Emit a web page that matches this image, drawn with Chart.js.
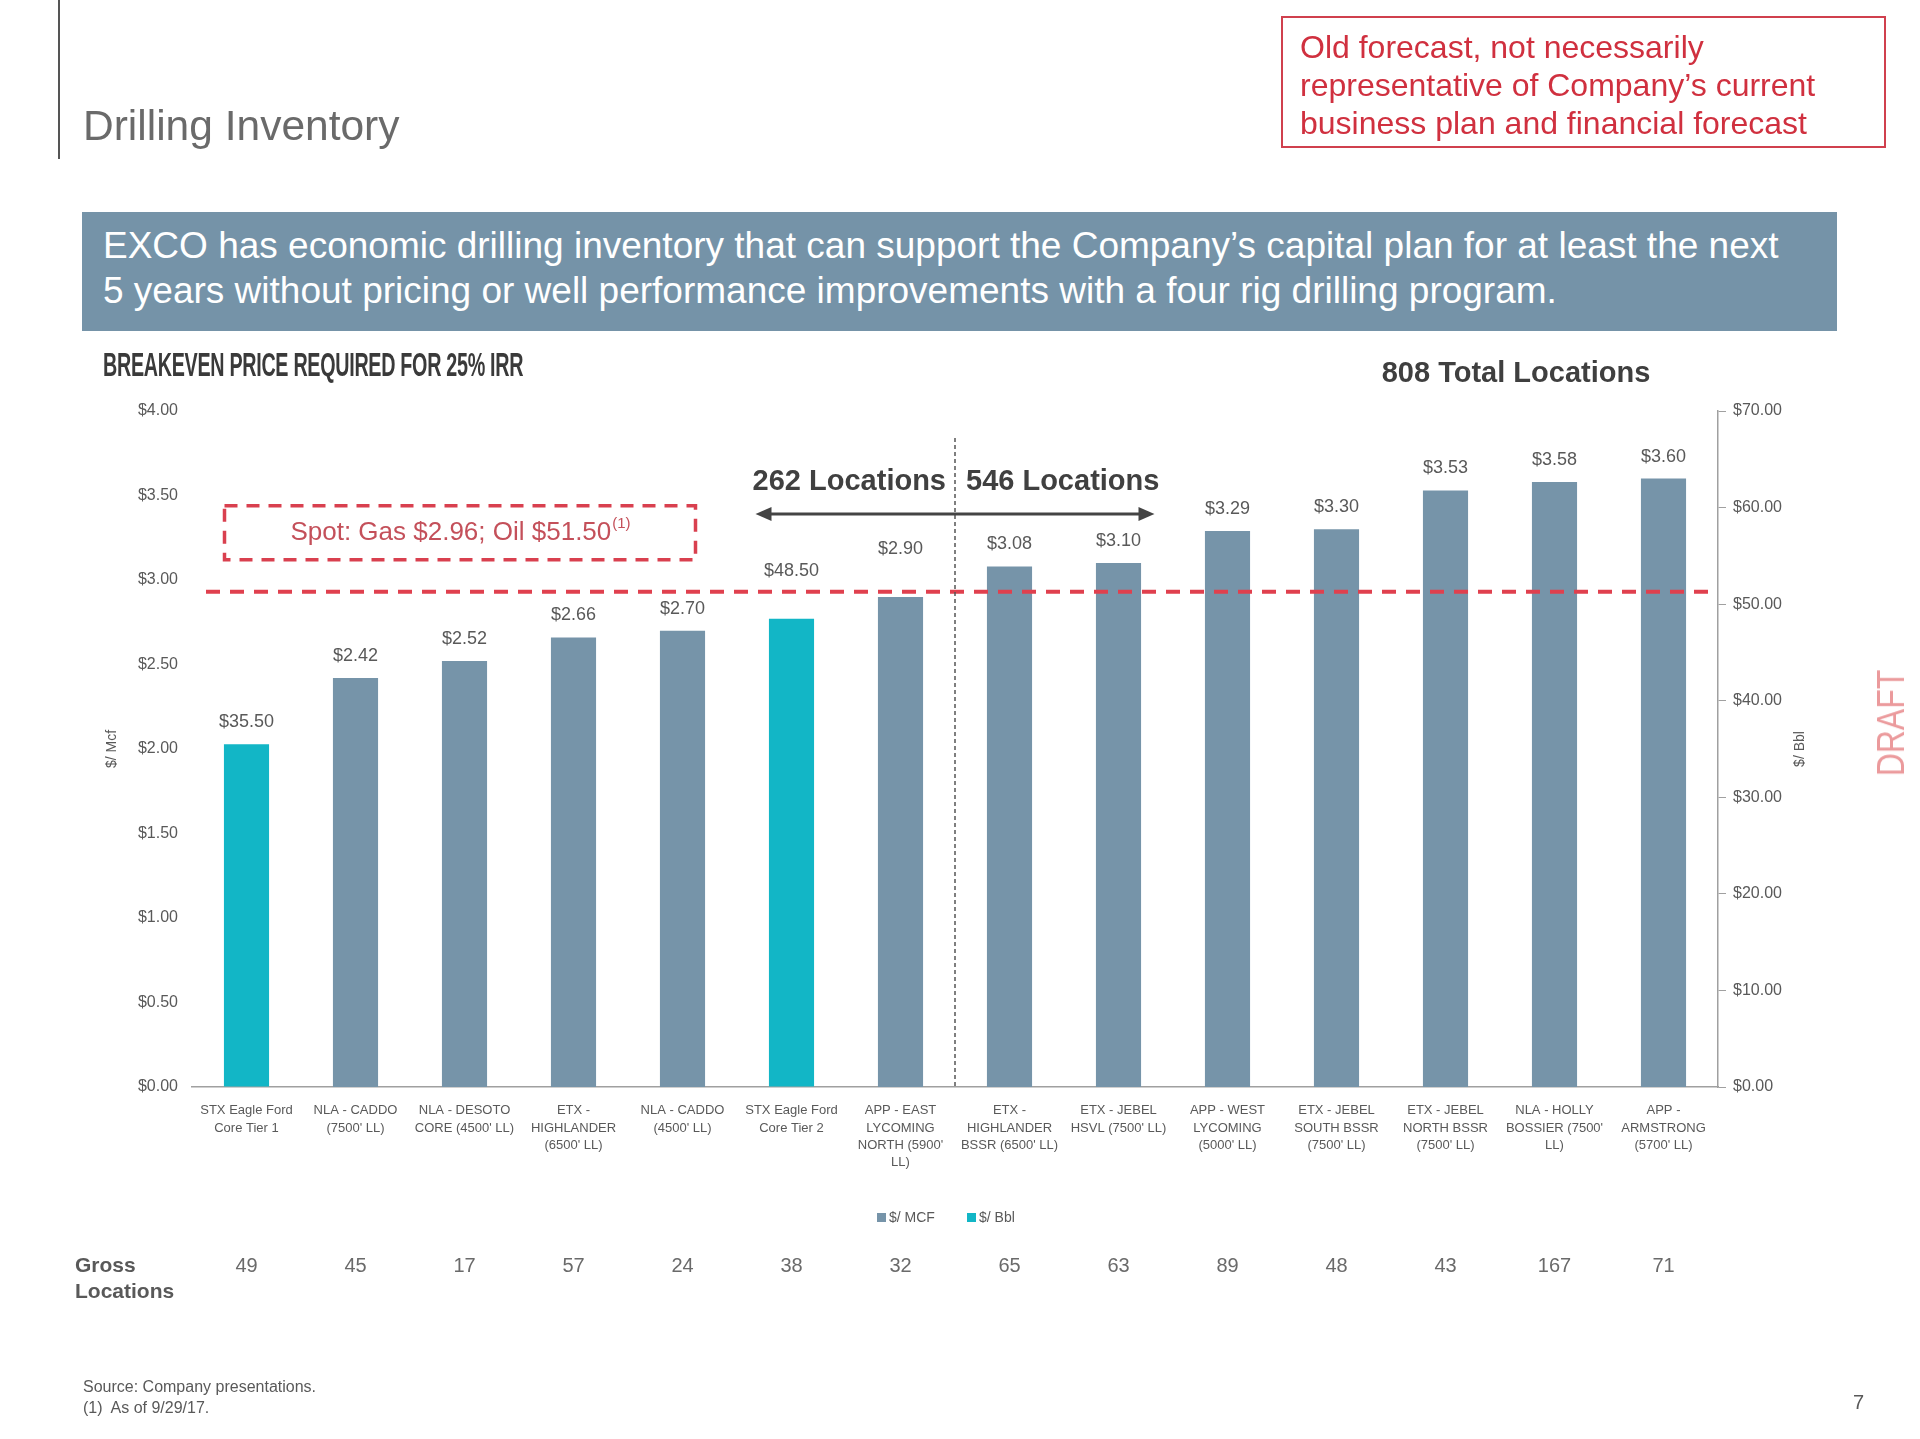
<!DOCTYPE html>
<html>
<head>
<meta charset="utf-8">
<script src="https://cdn.jsdelivr.net/npm/chart.js@4.4.1/dist/chart.umd.min.js"></script>
<style>
  html, body { margin: 0; padding: 0; background: #fff; }
  #page { position: relative; width: 1920px; height: 1439px; overflow: hidden; font-family: "Liberation Sans", Arial, sans-serif; }
  #chart { position: absolute; left: 0; top: 0; }
  .abs { position: absolute; white-space: nowrap; }
  .rule { left: 58px; top: 0; width: 2px; height: 159px; background: #555; }
  .title { left: 83px; top: 101px; font-size: 42.5px; line-height: 50px; color: #6a6a6a; }
  .warn { left: 1281px; top: 16px; width: 584px; height: 118px; border: 2px solid #d0404e; padding: 10px 0 0 17px;
          font-size: 32px; line-height: 38px; color: #d0303f; }
  .banner { left: 82px; top: 212px; width: 1734px; height: 108px; background: #7593a8; padding: 11px 0 0 21px;
            font-size: 37px; line-height: 45px; color: #fff; }
  .sub { left: 103px; top: 345px; font-weight: bold; font-size: 34px;
         line-height: 38px; color: #3a3a3a; transform: scaleX(0.58); transform-origin: left center; letter-spacing: -0.5px; }
  .total { left: 1381px; top: 354px; width: 270px; text-align: center; font-weight: bold; font-size: 29px; line-height: 36px; color: #3f3f3f; }
  .source { left: 83px; top: 1376px; font-size: 16px; line-height: 21px; color: #595959; }
  .draft { left: 1836px; top: 708px; width: 110px; text-align: center;
           font-size: 38px; line-height: 44px; color: #eb9a9c; transform: rotate(-90deg) scaleX(0.84); }
  .pnum { left: 1853px; top: 1389px; font-size: 20px; line-height: 26px; color: #595959; }
</style>
</head>
<body>
<div id="page">
  <canvas id="chart" width="1920" height="1439"></canvas>
  <div class="abs rule"></div>
  <div class="abs title">Drilling Inventory</div>
  <div class="abs warn">Old forecast, not necessarily<br>representative of Company’s current<br>business plan and financial forecast</div>
  <div class="abs banner">EXCO has economic drilling inventory that can support the Company’s capital plan for at least the next<br>5 years without pricing or well performance improvements with a four rig drilling program.</div>
  <div class="abs sub">BREAKEVEN PRICE REQUIRED FOR 25% IRR</div>
  <div class="abs total" id="total"></div>
  <div class="abs source">Source: Company presentations.<br>(1)&nbsp; As of 9/29/17.</div>
  <div class="abs draft">DRAFT</div>
  <div class="abs pnum">7</div>
</div>
<script>
const categories = [
  ["STX Eagle Ford", "Core Tier 1"],
  ["NLA - CADDO", "(7500' LL)"],
  ["NLA - DESOTO", "CORE (4500' LL)"],
  ["ETX -", "HIGHLANDER", "(6500' LL)"],
  ["NLA - CADDO", "(4500' LL)"],
  ["STX Eagle Ford", "Core Tier 2"],
  ["APP - EAST", "LYCOMING", "NORTH (5900'", "LL)"],
  ["ETX -", "HIGHLANDER", "BSSR (6500' LL)"],
  ["ETX - JEBEL", "HSVL (7500' LL)"],
  ["APP - WEST", "LYCOMING", "(5000' LL)"],
  ["ETX - JEBEL", "SOUTH BSSR", "(7500' LL)"],
  ["ETX - JEBEL", "NORTH BSSR", "(7500' LL)"],
  ["NLA - HOLLY", "BOSSIER (7500'", "LL)"],
  ["APP -", "ARMSTRONG", "(5700' LL)"]
];
const mcfValues = [null, 2.42, 2.52, 2.66, 2.70, null, 2.90, 3.08, 3.10, 3.29, 3.30, 3.53, 3.58, 3.60];
const bblValues = [35.50, null, null, null, null, 48.50, null, null, null, null, null, null, null, null];
const grossLocations = [49, 45, 17, 57, 24, 38, 32, 65, 63, 89, 48, 43, 167, 71];
const splitIndex = 7; // first 7 areas vs the rest
const spotGas = 2.96;
const spotOil = 51.50;

const gray = "#7694a9";
const cyan = "#12b6c6";
const textGray = "#595959";

const sum = arr => arr.reduce((s, v) => s + v, 0);
const leftTotal = sum(grossLocations.slice(0, splitIndex));
const rightTotal = sum(grossLocations.slice(splitIndex));
document.getElementById("total").textContent = (leftTotal + rightTotal) + " Total Locations";

const money = v => "$" + v.toFixed(2);

const overlay = {
  id: "overlay",
  afterDatasetsDraw(chart) {
    const { ctx, chartArea: a, scales: { x, y1 } } = chart;
    const spotY = y1.getPixelForValue(spotOil) + 2;
    const step = x.getPixelForValue(1) - x.getPixelForValue(0);
    ctx.save();

    // value labels, lifted over the spot line when they would sit on it
    ctx.font = "18px 'Liberation Sans'";
    ctx.fillStyle = textGray;
    ctx.textAlign = "center";
    ctx.textBaseline = "middle";
    chart.data.datasets.forEach((ds, di) => {
      chart.getDatasetMeta(di).data.forEach((bar, i) => {
        const v = ds.data[i];
        if (v == null) return;
        let ty = bar.y - 22;
        const d = ty - spotY;
        if (d > -20 && d < 12) ty = bar.y - 48;
        ctx.fillText(money(v), bar.x, ty);
      });
    });

    // spot price line
    ctx.strokeStyle = "#e0404e";
    ctx.lineWidth = 4;
    ctx.setLineDash([14, 10]);
    ctx.beginPath();
    ctx.moveTo(a.left + 14, spotY);
    ctx.lineTo(a.right, spotY);
    ctx.stroke();

    // spot box
    const bx0 = x.getPixelForValue(0) - 22;
    const bx1 = x.getPixelForValue(4) + 13;
    const by0 = spotY - 86, by1 = spotY - 32;
    ctx.strokeStyle = "#d9404f";
    ctx.lineWidth = 3.5;
    ctx.setLineDash([13, 9]);
    ctx.strokeRect(bx0, by0, bx1 - bx0, by1 - by0);
    ctx.setLineDash([]);
    ctx.fillStyle = "#c4505a";
    ctx.font = "26px 'Liberation Sans'";
    const spotTxt = "Spot: Gas " + money(spotGas) + "; Oil " + money(spotOil);
    const tw = ctx.measureText(spotTxt).width;
    ctx.font = "15px 'Liberation Sans'";
    const sw = ctx.measureText("(1)").width;
    const tx = (bx0 + bx1) / 2 - (tw + sw) / 2;
    const tyb = (by0 + by1) / 2;
    ctx.textAlign = "left";
    ctx.font = "26px 'Liberation Sans'";
    ctx.fillText(spotTxt, tx, tyb);
    ctx.font = "15px 'Liberation Sans'";
    ctx.fillText("(1)", tx + tw + 1, tyb - 9);

    // divider between groups
    const divX = (x.getPixelForValue(splitIndex - 1) + x.getPixelForValue(splitIndex)) / 2;
    ctx.strokeStyle = "#555";
    ctx.lineWidth = 1.5;
    ctx.setLineDash([4, 3]);
    ctx.beginPath();
    ctx.moveTo(divX, a.top + 27);
    ctx.lineTo(divX, a.bottom);
    ctx.stroke();
    ctx.setLineDash([]);

    // group totals
    ctx.fillStyle = "#404040";
    ctx.font = "bold 29px 'Liberation Sans'";
    ctx.textAlign = "right";
    ctx.fillText(leftTotal + " Locations", divX - 9, a.top + 71);
    ctx.textAlign = "left";
    ctx.fillText(rightTotal + " Locations", divX + 11, a.top + 71);

    // double arrow
    const ay = a.top + 103;
    const ax0 = divX - step * 1.83, ax1 = divX + step * 1.83;
    ctx.strokeStyle = "#444";
    ctx.fillStyle = "#444";
    ctx.lineWidth = 3;
    ctx.beginPath();
    ctx.moveTo(ax0 + 10, ay);
    ctx.lineTo(ax1 - 10, ay);
    ctx.stroke();
    [[ax0, 1], [ax1, -1]].forEach(([px, d]) => {
      ctx.beginPath();
      ctx.moveTo(px, ay);
      ctx.lineTo(px + d * 16, ay - 7);
      ctx.lineTo(px + d * 16, ay + 7);
      ctx.closePath();
      ctx.fill();
    });

    // right axis title, reading upwards
    ctx.save();
    ctx.translate(1800, (a.top + a.bottom) / 2);
    ctx.rotate(-Math.PI / 2);
    ctx.textAlign = "center";
    ctx.font = "14px 'Liberation Sans'";
    ctx.fillStyle = textGray;
    ctx.fillText("$/ Bbl", 0, 0);
    ctx.restore();

    // legend
    const lgY = 1218;
    let lx = (a.left + a.right) / 2 - 78;
    ctx.font = "14px 'Liberation Sans'";
    ctx.textAlign = "left";
    chart.data.datasets.forEach(ds => {
      ctx.fillStyle = ds.backgroundColor;
      ctx.fillRect(lx, lgY - 5, 9, 9);
      ctx.fillStyle = textGray;
      ctx.fillText(ds.label, lx + 12, lgY);
      lx += 90;
    });

    // gross locations row
    const gy = 1266;
    ctx.font = "bold 21px 'Liberation Sans'";
    ctx.fillStyle = textGray;
    ctx.fillText("Gross", 75, gy);
    ctx.fillText("Locations", 75, gy + 26);
    ctx.font = "20px 'Liberation Sans'";
    ctx.fillStyle = "#6a6a6a";
    ctx.textAlign = "center";
    grossLocations.forEach((n, i) => ctx.fillText(String(n), x.getPixelForValue(i), gy));

    ctx.restore();
  }
};

new Chart(document.getElementById("chart"), {
  type: "bar",
  data: {
    labels: categories,
    datasets: [
      { label: "$/ MCF", data: mcfValues, backgroundColor: gray, yAxisID: "y", grouped: false,
        categoryPercentage: 1, barPercentage: 0.414 },
      { label: "$/ Bbl", data: bblValues, backgroundColor: cyan, yAxisID: "y1", grouped: false,
        categoryPercentage: 1, barPercentage: 0.414 }
    ]
  },
  options: {
    responsive: false,
    animation: false,
    layout: { padding: { left: 100, right: 107, top: 411, bottom: 252 } },
    plugins: { legend: { display: false }, tooltip: { enabled: false } },
    scales: {
      x: {
        grid: { display: false },
        border: { display: true, color: "#a0a0a0", width: 1.5 },
        ticks: { color: textGray, autoSkip: false, maxRotation: 0, padding: 7,
                 font: { family: "'Liberation Sans', sans-serif", size: 13, lineHeight: 1.33 } },
        afterFit: s => { s.height = 100; }
      },
      y: {
        position: "left", min: 0, max: 4,
        grid: { display: false },
        border: { display: false },
        ticks: { stepSize: 0.5, color: textGray, padding: 6, callback: v => money(v),
                 font: { family: "'Liberation Sans'", size: 16 } },
        title: { display: true, text: "$/ Mcf", color: textGray, font: { family: "'Liberation Sans'", size: 14 } },
        afterFit: s => { s.width = 92; }
      },
      y1: {
        position: "right", min: 0, max: 70,
        grid: { display: true, drawOnChartArea: false, drawTicks: true, tickLength: 8, color: "#a0a0a0" },
        border: { display: true, color: "#a0a0a0", width: 1.5 },
        ticks: { stepSize: 10, color: textGray, padding: 7, callback: v => money(v),
                 font: { family: "'Liberation Sans'", size: 16 } },
        afterFit: s => { s.width = 95; }
      }
    }
  },
  plugins: [overlay]
});
</script>
</body>
</html>
